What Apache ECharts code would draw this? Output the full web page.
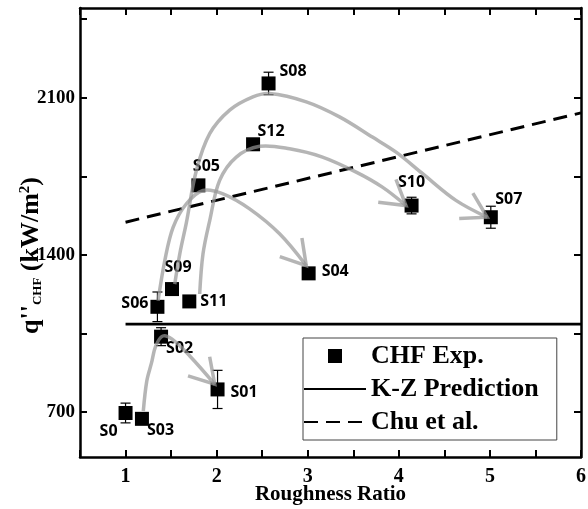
<!DOCTYPE html>
<html>
<head>
<meta charset="utf-8">
<script src="https://cdn.jsdelivr.net/npm/echarts@6/dist/echarts.min.js"></script>
</head>
<body style="margin:0;background:#fff">
<div id="main" style="width:588px;height:509px;"></div>
<script type="text/javascript">
// sample data
var sampleNames = ['S0', 'S03', 'S02', 'S06', 'S09', 'S11', 'S01', 'S05', 'S12', 'S08', 'S04', 'S10', 'S07'];
var roughness = [1.00, 1.18, 1.39, 1.35, 1.51, 1.70, 2.01, 1.80, 2.40, 2.57, 3.01, 4.14, 5.01];
var chf = [696, 670, 1036, 1169, 1248, 1193, 801, 1710, 1893, 2164, 1318, 1620, 1568];
var chfErr = [44, 0, 40, 66, 0, 0, 85, 0, 0, 50, 0, 37, 49];

var kzLine = [[1, 1092], [6, 1092]];
var chuLine = [[1, 1546], [6, 2033]];

var yTicks = [700, 1050, 1400, 1750, 2100, 2450];
var yTickLabels = [700, 1400, 2100];

// gray trend arrows, waypoints in data units
var arrowPaths = [
  [[1.195, 704], [1.233, 838], [1.285, 919], [1.332, 995], [1.409, 1039], [1.507, 1026], [1.705, 950], [1.979, 824]],
  [[1.357, 1196], [1.431, 1375], [1.522, 1523], [1.668, 1628], [1.850, 1687], [2.070, 1672], [2.362, 1605], [2.691, 1494], [2.984, 1352]],
  [[1.540, 1270], [1.595, 1404], [1.668, 1544], [1.778, 1777], [1.924, 1940], [2.143, 2045], [2.398, 2104], [2.581, 2119], [2.984, 2082], [3.349, 2015], [3.710, 1925], [3.970, 1858], [4.258, 1763], [4.627, 1643], [4.970, 1568]],
  [[1.814, 1226], [1.850, 1404], [1.924, 1553], [2.033, 1732], [2.216, 1836], [2.472, 1884], [2.801, 1873], [3.162, 1836], [3.532, 1769], [3.820, 1702], [4.079, 1620]]
];

// label placement: [dx, dy, align]
var labelPlace = {
  S0: [-8, 18, 'right'], S03: [5, 12, 'left'], S02: [5, 12, 'left'], S06: [-9, -3, 'right'],
  S09: [6, -22, 'center'], S11: [11, 0, 'left'], S01: [13, 3, 'left'], S05: [8, -19, 'center'],
  S12: [18, -13, 'center'], S08: [11, -12, 'left'], S04: [13, -2, 'left'], S10: [0, -23, 'center'],
  S07: [18, -18, 'center']
};

var serif = 'Liberation Serif';
var arrowColor = 'rgba(150,150,150,0.7)';
var headLen = 28, headAngle = 31 * Math.PI / 180;

var myChart = echarts.init(document.getElementById('main'));

function renderArrow(params, api) {
  var pts = arrowPaths[params.dataIndex].map(function (p) { return api.coord(p); });
  var tip = pts[pts.length - 1], prev = pts[pts.length - 2];
  var ang = Math.atan2(tip[1] - prev[1], tip[0] - prev[0]);
  function barb(a) {
    return [tip[0] - headLen * Math.cos(ang + a), tip[1] - headLen * Math.sin(ang + a)];
  }
  var st = { stroke: arrowColor, lineWidth: 3.5, fill: null };
  return {
    type: 'group',
    children: [
      { type: 'polyline', shape: { points: pts, smooth: 0.35 }, style: st },
      { type: 'polyline', shape: { points: [barb(headAngle), tip, barb(-headAngle)] }, style: st }
    ]
  };
}

function renderErr(params, api) {
  var x = api.value(0), y = api.value(1), e = api.value(2);
  if (!e) return;
  var top = api.coord([x, y + e]), bot = api.coord([x, y - e]);
  var w = 5;
  var st = { stroke: '#000', lineWidth: 1.2 };
  return {
    type: 'group',
    children: [
      { type: 'line', shape: { x1: top[0], y1: top[1], x2: bot[0], y2: bot[1] }, style: st },
      { type: 'line', shape: { x1: top[0] - w, y1: top[1], x2: top[0] + w, y2: top[1] }, style: st },
      { type: 'line', shape: { x1: bot[0] - w, y1: bot[1], x2: bot[0] + w, y2: bot[1] }, style: st }
    ]
  };
}

var axisLineStyle = { show: true, onZero: false, lineStyle: { color: '#000', width: 2.5 } };
var tickStyle = { inside: true, length: 7, lineStyle: { color: '#000', width: 2 } };

var option = {
  backgroundColor: '#fff',
  animation: false,
  grid: { left: 80, right: 7, top: 8, bottom: 52, containLabel: false, outerBoundsMode: 'none' },
  legend: {
    orient: 'vertical',
    left: 303,
    top: 338,
    padding: [5, 18, 5, 0],
    itemWidth: 62,
    itemHeight: 14,
    itemGap: 7,
    borderColor: '#444',
    borderWidth: 1,
    textStyle: { fontFamily: serif, fontWeight: 'bold', fontSize: 26, lineHeight: 26, color: '#000' },
    data: [
      { name: 'CHF Exp.', icon: 'path://M0,0H10V10H0Z', itemStyle: { color: '#000', opacity: 1 } },
      { name: 'K-Z Prediction', itemStyle: { opacity: 0 } },
      { name: 'Chu et al.', itemStyle: { opacity: 0 } }
    ]
  },
  xAxis: [
    {
      type: 'value', min: 0.5, max: 6, interval: 0.5, position: 'bottom',
      axisLine: axisLineStyle,
      axisTick: tickStyle,
      splitLine: { show: false },
      axisLabel: {
        margin: 10, color: '#000', fontFamily: serif, fontWeight: 'bold', fontSize: 20,
        formatter: function (v) { return Number.isInteger(v) ? String(v) : ''; }
      },
      name: 'Roughness Ratio',
      nameLocation: 'middle',
      nameGap: 27,
      nameMoveOverlap: false,
      nameTextStyle: { color: '#000', fontFamily: serif, fontWeight: 'bold', fontSize: 21 }
    },
    {
      type: 'value', min: 0.5, max: 6, interval: 0.5, position: 'top',
      axisLine: axisLineStyle,
      axisTick: tickStyle,
      splitLine: { show: false },
      axisLabel: { show: false }
    }
  ],
  yAxis: [
    {
      type: 'value', min: 500, max: 2500, position: 'left',
      axisLine: axisLineStyle,
      axisTick: { inside: true, length: 7, lineStyle: { color: '#000', width: 2 }, customValues: yTicks },
      splitLine: { show: false },
      axisLabel: {
        customValues: yTickLabels, margin: 5, color: '#000',
        fontFamily: serif, fontWeight: 'bold', fontSize: 19,
        formatter: function (v) { return String(v); }
      },
      name: "{a|q''}{b|CHF}{a| (kW/m}{c|2}{a|)}",
      nameLocation: 'middle',
      nameRotate: 90,
      nameGap: 36,
      nameMoveOverlap: false,
      nameTextStyle: {
        color: '#000',
        padding: [0, 46, 0, 0],
        rich: {
          a: { fontFamily: serif, fontWeight: 'bold', fontSize: 26, color: '#000' },
          b: { fontFamily: serif, fontWeight: 'bold', fontSize: 13, color: '#000', verticalAlign: 'bottom', padding: [11, 0, 0, 0] },
          c: { fontFamily: serif, fontWeight: 'bold', fontSize: 15, color: '#000', verticalAlign: 'top' }
        }
      }
    },
    {
      type: 'value', min: 500, max: 2500, position: 'right',
      axisLine: axisLineStyle,
      axisTick: { inside: true, length: 7, lineStyle: { color: '#000', width: 2 }, customValues: yTicks },
      splitLine: { show: false },
      axisLabel: { show: false }
    }
  ],
  series: [
    {
      name: 'K-Z Prediction',
      type: 'line',
      symbol: 'none',
      color: '#000',
      lineStyle: { color: '#000', width: 2.7 },
      data: kzLine,
      z: 2
    },
    {
      name: 'Chu et al.',
      type: 'line',
      symbol: 'none',
      color: '#000',
      lineStyle: { color: '#000', width: 3, type: [14, 8] },
      data: chuLine,
      z: 2
    },
    {
      type: 'custom',
      renderItem: renderErr,
      silent: true,
      data: roughness.map(function (x, i) { return [x, chf[i], chfErr[i]]; }),
      z: 3
    },
    {
      name: 'CHF Exp.',
      type: 'scatter',
      symbol: 'rect',
      symbolSize: 14,
      color: '#000',
      itemStyle: { color: '#000', opacity: 1 },
      z: 4,
      data: sampleNames.map(function (n, i) {
        var p = labelPlace[n];
        return {
          name: n,
          value: [roughness[i], chf[i]],
          label: { offset: [p[0], p[1]], align: p[2] }
        };
      }),
      label: {
        show: true,
        position: 'inside',
        verticalAlign: 'middle',
        formatter: '{b}',
        color: '#000',
        fontFamily: 'Open Sans',
        fontWeight: 'bold',
        fontSize: 16
      }
    },
    {
      type: 'custom',
      renderItem: renderArrow,
      silent: true,
      data: arrowPaths.map(function (p) { return p[p.length - 1]; }),
      z: 5
    }
  ]
};

myChart.setOption(option);
</script>
</body>
</html>
